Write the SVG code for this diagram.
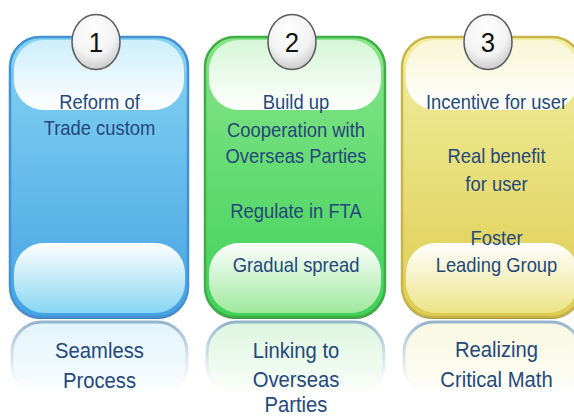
<svg xmlns="http://www.w3.org/2000/svg" width="574" height="416" viewBox="0 0 574 416">
<defs>
<linearGradient id="bMain" x1="0" y1="0" x2="0" y2="1"><stop offset="0" stop-color="#86d4f2"/><stop offset="1" stop-color="#45a3e3"/></linearGradient>
<linearGradient id="gMain" x1="0" y1="0" x2="0" y2="1"><stop offset="0" stop-color="#88e48a"/><stop offset="1" stop-color="#3fd25a"/></linearGradient>
<linearGradient id="yMain" x1="0" y1="0" x2="0" y2="1"><stop offset="0" stop-color="#f3eea2"/><stop offset="1" stop-color="#ddcd50"/></linearGradient>
<linearGradient id="bTop" x1="0" y1="0" x2="0" y2="1"><stop offset="0" stop-color="#cdeefa"/><stop offset="1" stop-color="#ffffff"/></linearGradient>
<linearGradient id="gTop" x1="0" y1="0" x2="0" y2="1"><stop offset="0" stop-color="#d6f6d6"/><stop offset="1" stop-color="#ffffff"/></linearGradient>
<linearGradient id="yTop" x1="0" y1="0" x2="0" y2="1"><stop offset="0" stop-color="#f8f6d4"/><stop offset="1" stop-color="#ffffff"/></linearGradient>
<linearGradient id="bBot" x1="0" y1="0" x2="0" y2="1"><stop offset="0" stop-color="#ffffff"/><stop offset="1" stop-color="#88d6f3"/></linearGradient>
<linearGradient id="gBot" x1="0" y1="0" x2="0" y2="1"><stop offset="0" stop-color="#ffffff"/><stop offset="1" stop-color="#9ee89c"/></linearGradient>
<linearGradient id="yBot" x1="0" y1="0" x2="0" y2="1"><stop offset="0" stop-color="#ffffff"/><stop offset="1" stop-color="#ece486"/></linearGradient>
<linearGradient id="bRef" x1="0" y1="0" x2="0" y2="1"><stop offset="0" stop-color="#e2f4fc"/><stop offset="0.75" stop-color="#f4fbfe"/><stop offset="1" stop-color="#ffffff"/></linearGradient>
<linearGradient id="gRef" x1="0" y1="0" x2="0" y2="1"><stop offset="0" stop-color="#ddf6de"/><stop offset="0.75" stop-color="#f3fcf3"/><stop offset="1" stop-color="#ffffff"/></linearGradient>
<linearGradient id="yRef" x1="0" y1="0" x2="0" y2="1"><stop offset="0" stop-color="#f9f8e2"/><stop offset="0.75" stop-color="#fcfcf2"/><stop offset="1" stop-color="#ffffff"/></linearGradient>
<linearGradient id="refStroke" x1="0" y1="0" x2="0" y2="1"><stop offset="0" stop-color="#94b4cc"/><stop offset="0.6" stop-color="#d4e2ec" stop-opacity="0.6"/><stop offset="1" stop-color="#ffffff" stop-opacity="0"/></linearGradient>
<radialGradient id="ball" cx="0.45" cy="0.3" r="0.75"><stop offset="0" stop-color="#ffffff"/><stop offset="0.6" stop-color="#f2f2f2"/><stop offset="1" stop-color="#c4c4c4"/></radialGradient>
</defs>
<style>
.t{font-family:"Liberation Sans",Arial,sans-serif;font-size:20px;fill:#25487a;text-anchor:middle}
.r{font-family:"Liberation Sans",Arial,sans-serif;font-size:22px;fill:#25487a;text-anchor:middle}
.n{font-family:"Liberation Sans",Arial,sans-serif;font-size:28px;fill:#111111;text-anchor:middle}
.ball{fill:url(#ball);stroke:#5a5a5a;stroke-width:1.5}
.ref{stroke:url(#refStroke);stroke-width:3}
</style>
<rect width="574" height="416" fill="#ffffff"/>

<g id="panel1">
<rect x="10" y="39" width="178" height="280" rx="30" fill="#3a78b2"/>
<rect x="10" y="37" width="178" height="280" rx="30" fill="url(#bMain)" stroke="#4591d2" stroke-width="2.5"/>
<rect x="14" y="40" width="170" height="70" rx="30" fill="url(#bTop)"/>
<rect x="14" y="243" width="171" height="70" rx="30" fill="url(#bBot)"/>
<rect x="12" y="322" width="175" height="73" rx="30" fill="url(#bRef)" class="ref"/>
<ellipse cx="96" cy="42" rx="24" ry="27.5" class="ball"/>
<g transform="translate(96 0) scale(0.92 1)">
<text x="0" y="52" class="n">1</text>
</g>
<g transform="translate(99.5 0) scale(0.92 1)">
<text x="0" y="109" class="t">Reform of</text>
<text x="0" y="135" class="t">Trade custom</text>
<text x="0" y="358" class="r">Seamless</text>
<text x="0" y="388" class="r">Process</text>
</g>
</g>

<g id="panel2">
<rect x="205" y="39" width="180" height="280" rx="30" fill="#3a8a3c"/>
<rect x="205" y="37" width="180" height="280" rx="30" fill="url(#gMain)" stroke="#3fae45" stroke-width="2.5"/>
<rect x="209" y="40" width="172" height="70" rx="30" fill="url(#gTop)"/>
<rect x="209" y="243" width="172" height="70" rx="30" fill="url(#gBot)"/>
<rect x="207" y="322" width="177" height="73" rx="30" fill="url(#gRef)" class="ref"/>
<ellipse cx="292" cy="42" rx="24" ry="27.5" class="ball"/>
<g transform="translate(292 0) scale(0.92 1)">
<text x="0" y="52" class="n">2</text>
</g>
<g transform="translate(296 0) scale(0.92 1)">
<text x="0" y="109" class="t">Build up</text>
<text x="0" y="137" class="t">Cooperation with</text>
<text x="0" y="163" class="t">Overseas Parties</text>
<text x="0" y="218" class="t">Regulate in FTA</text>
<text x="0" y="272" class="t">Gradual spread</text>
<text x="0" y="358" class="r">Linking to</text>
<text x="0" y="387" class="r">Overseas</text>
<text x="0" y="412" class="r">Parties</text>
</g>
</g>

<g id="panel3">
<rect x="402" y="39" width="180" height="280" rx="30" fill="#9c8e3e"/>
<rect x="402" y="37" width="180" height="280" rx="30" fill="url(#yMain)" stroke="#c8b44c" stroke-width="2.5"/>
<rect x="406" y="40" width="172" height="70" rx="30" fill="url(#yTop)"/>
<rect x="406" y="243" width="172" height="70" rx="30" fill="url(#yBot)"/>
<rect x="404" y="322" width="177" height="73" rx="30" fill="url(#yRef)" class="ref"/>
<ellipse cx="488" cy="42" rx="24" ry="27.5" class="ball"/>
<g transform="translate(488 0) scale(0.92 1)">
<text x="0" y="52" class="n">3</text>
</g>
<g transform="translate(496.5 0) scale(0.92 1)">
<text x="0" y="109" class="t">Incentive for user</text>
<text x="0" y="163" class="t">Real benefit</text>
<text x="0" y="191" class="t">for user</text>
<text x="0" y="245" class="t">Foster</text>
<text x="0" y="272" class="t">Leading Group</text>
<text x="0" y="357" class="r">Realizing</text>
<text x="0" y="387" class="r">Critical Math</text>
</g>
</g>
</svg>
